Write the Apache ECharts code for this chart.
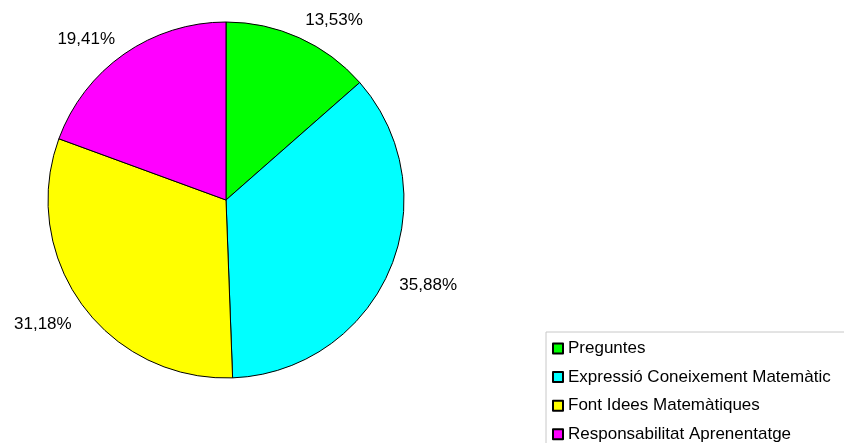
<!DOCTYPE html>
<html><head><meta charset="utf-8">
<script src="https://cdn.jsdelivr.net/npm/echarts@6/dist/echarts.min.js"></script>
<style>html,body{margin:0;padding:0;background:#fff}#c{width:844px;height:443px}</style>
</head><body><div id="c"></div>
<script>
const categories = ['Preguntes', 'Expressió Coneixement Matemàtic', 'Font Idees Matemàtiques', 'Responsabilitat Aprenentatge'];
const values = [13.53, 35.88, 31.18, 19.41];
const colors = ['#00FF00', '#00FFFF', '#FFFF00', '#FF00FF'];

const labelNudge = [[-5, -5], [-8, 9], [6, 11], [4, -3]];

const chart = echarts.init(document.getElementById('c'), null, {renderer: 'canvas'});
chart.setOption({
  animation: false,
  backgroundColor: '#ffffff',
  color: colors,
  legend: {
    orient: 'vertical',
    left: 546, top: 332, height: 200,
    padding: [8, 200, 40, 6],
    borderColor: '#c8c8c8', borderWidth: 1,
    itemWidth: 10, itemHeight: 10, itemGap: 11.6,
    icon: 'rect',
    textStyle: {fontFamily: 'Liberation Sans, Arial', fontSize: 17, color: '#000'},
    data: categories
  },
  series: [{
    type: 'pie',
    center: [226, 200],
    radius: 178,
    startAngle: 90,
    clockwise: true,
    itemStyle: {borderColor: '#000', borderWidth: 1},
    emphasis: {disabled: true},
    label: {
      show: true, position: 'outside', overflow: 'none', edgeDistance: 0,
      fontFamily: 'Liberation Sans, Arial', fontSize: 17, color: '#000',
      formatter: p => p.value.toFixed(2).replace('.', ',') + '%'
    },
    labelLine: {show: false, length: 14, length2: 0},
    labelLayout: p => ({dx: labelNudge[p.dataIndex][0], dy: labelNudge[p.dataIndex][1]}),
    data: categories.map((n, i) => ({name: n, value: values[i]}))
  }]
});
</script></body></html>
